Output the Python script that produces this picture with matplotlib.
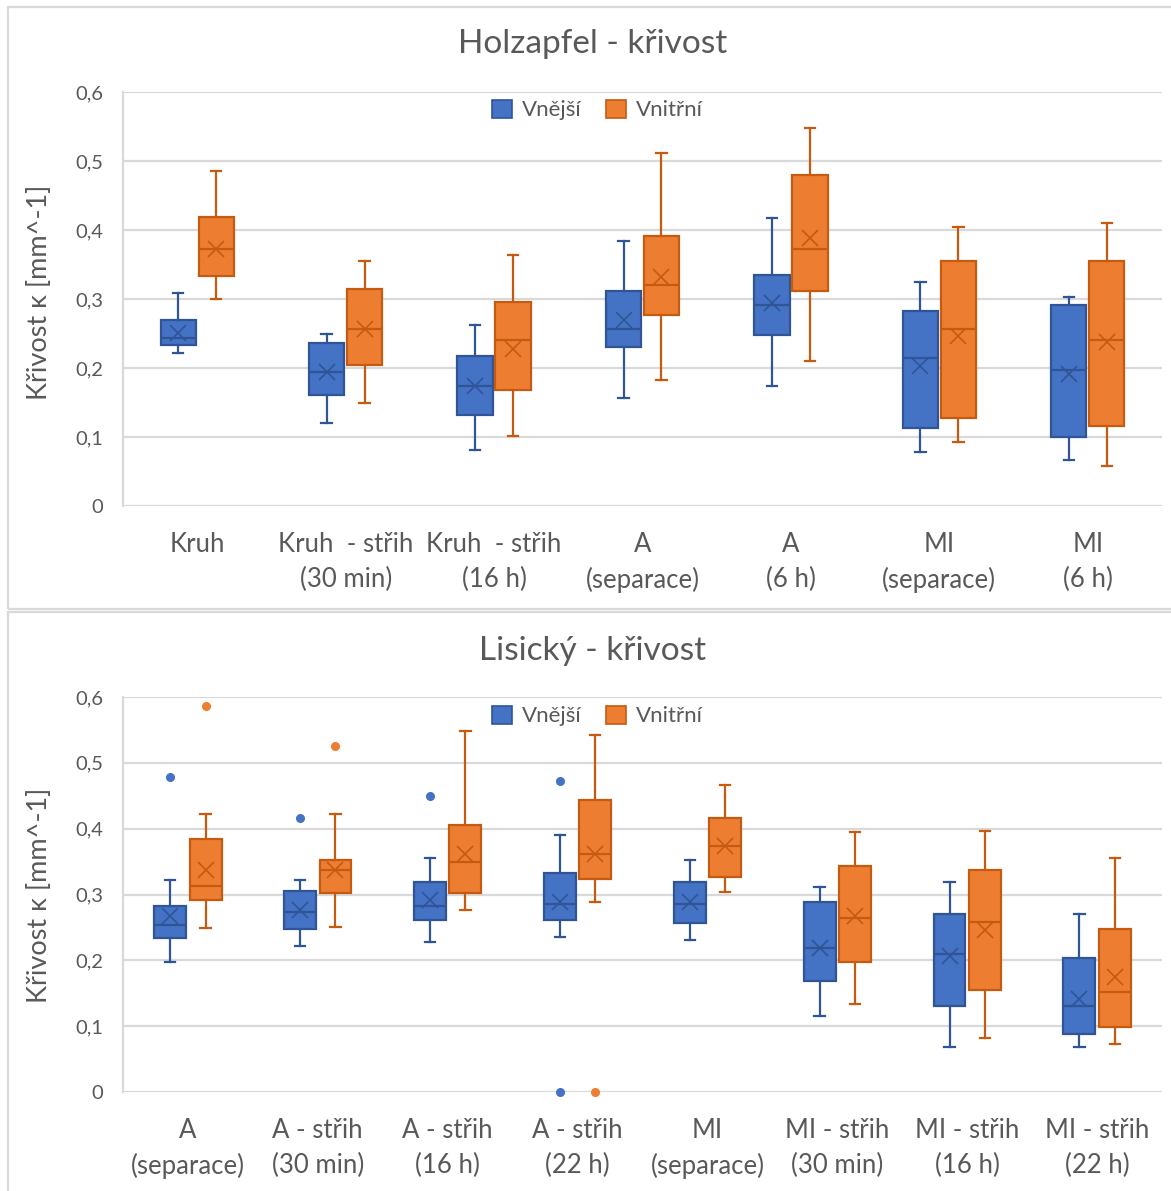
import matplotlib
matplotlib.use("Agg")
import matplotlib.pyplot as plt
from matplotlib.patches import Patch, Rectangle

plt.rcParams['font.family'] = ['Lato', 'DejaVu Sans']

# ---------------- data ----------------
top_title = "Holzapfel - křivost"
top_categories = ["Kruh", "Kruh  - střih\n(30 min)", "Kruh  - střih\n(16 h)", "A\n(separace)",
                  "A\n(6 h)", "MI\n(separace)", "MI\n(6 h)"]
# Vnější (outer)
top_out_whislo = [0.222, 0.121, 0.081, 0.156, 0.174, 0.078, 0.067]
top_out_q1     = [0.233, 0.161, 0.132, 0.230, 0.248, 0.113, 0.100]
top_out_med    = [0.244, 0.194, 0.174, 0.257, 0.292, 0.214, 0.197]
top_out_q3     = [0.270, 0.236, 0.217, 0.312, 0.335, 0.283, 0.292]
top_out_whishi = [0.309, 0.249, 0.262, 0.384, 0.418, 0.324, 0.303]
top_out_mean   = [0.251, 0.194, 0.174, 0.269, 0.294, 0.203, 0.192]
top_out_fliers = [[], [], [], [], [], [], []]
# Vnitřní (inner)
top_in_whislo = [0.300, 0.150, 0.101, 0.182, 0.210, 0.093, 0.058]
top_in_q1     = [0.334, 0.204, 0.168, 0.277, 0.312, 0.127, 0.116]
top_in_med    = [0.373, 0.257, 0.240, 0.321, 0.373, 0.257, 0.240]
top_in_q3     = [0.419, 0.314, 0.295, 0.392, 0.480, 0.355, 0.355]
top_in_whishi = [0.486, 0.355, 0.364, 0.511, 0.548, 0.404, 0.410]
top_in_mean   = [0.372, 0.257, 0.227, 0.332, 0.388, 0.247, 0.238]
top_in_fliers = [[], [], [], [], [], [], []]

bot_title = "Lisický - křivost"
bot_categories = ["A\n(separace)", "A - střih\n(30 min)", "A - střih\n(16 h)", "A - střih\n(22 h)",
                  "MI\n(separace)", "MI - střih\n(30 min)", "MI - střih\n(16 h)", "MI - střih\n(22 h)"]
bot_out_whislo = [0.197, 0.222, 0.228, 0.235, 0.231, 0.116, 0.069, 0.069]
bot_out_q1     = [0.234, 0.248, 0.262, 0.262, 0.257, 0.169, 0.131, 0.088]
bot_out_med    = [0.254, 0.273, 0.282, 0.286, 0.285, 0.219, 0.210, 0.131]
bot_out_q3     = [0.282, 0.306, 0.319, 0.333, 0.319, 0.289, 0.270, 0.203]
bot_out_whishi = [0.322, 0.322, 0.355, 0.391, 0.352, 0.312, 0.319, 0.270]
bot_out_mean   = [0.267, 0.277, 0.292, 0.288, 0.288, 0.218, 0.206, 0.142]
bot_out_fliers = [[0.479], [0.416], [0.449], [0.473, 0.0], [], [], [], []]
bot_in_whislo = [0.249, 0.251, 0.276, 0.289, 0.304, 0.134, 0.082, 0.073]
bot_in_q1     = [0.291, 0.303, 0.303, 0.324, 0.327, 0.197, 0.155, 0.099]
bot_in_med    = [0.313, 0.337, 0.349, 0.361, 0.374, 0.265, 0.258, 0.152]
bot_in_q3     = [0.385, 0.352, 0.406, 0.443, 0.416, 0.343, 0.337, 0.248]
bot_in_whishi = [0.422, 0.422, 0.549, 0.543, 0.467, 0.395, 0.397, 0.355]
bot_in_mean   = [0.337, 0.337, 0.362, 0.361, 0.374, 0.267, 0.246, 0.174]
bot_in_fliers = [[0.586], [0.525], [], [0.0], [], [], [], []]

series_names = ["Vnější", "Vnitřní"]
yticks = [0, 0.1, 0.2, 0.3, 0.4, 0.5, 0.6]
ytick_labels = ["0", "0,1", "0,2", "0,3", "0,4", "0,5", "0,6"]
ylabel = "Křivost κ [mm^-1]"

# ---------------- style ----------------
BLUE_F, BLUE_E = "#4472C4", "#2F5597"
ORG_F, ORG_E = "#ED7D31", "#C55A11"
GRID = "#D9D9D9"
TXT = "#595959"

W, H = 1171, 1191
fig = plt.figure(figsize=(W / 100, H / 100), dpi=100)


def fx(px):
    return px / W


def fy(py):
    return 1 - py / H


def stats(whislo, q1, med, q3, whishi, mean, fliers):
    out = []
    for i in range(len(med)):
        out.append(dict(whislo=whislo[i], q1=q1[i], med=med[i], q3=q3[i],
                        whishi=whishi[i], mean=mean[i], fliers=fliers[i]))
    return out


def draw_panel(rect, cats, s_out, s_in, offset, width, capw, leg_y):
    ax = fig.add_axes(rect)
    n = len(cats)
    pos_out = [i - offset for i in range(n)]
    pos_in = [i + offset for i in range(n)]
    for st, pos, fc, ec in [(s_out, pos_out, BLUE_F, BLUE_E), (s_in, pos_in, ORG_F, ORG_E)]:
        ax.bxp(st, positions=pos, widths=width, patch_artist=True, showmeans=True,
               capwidths=capw, manage_ticks=False,
               boxprops=dict(facecolor=fc, edgecolor=ec, linewidth=1.6),
               medianprops=dict(color=ec, linewidth=1.6),
               whiskerprops=dict(color=ec, linewidth=1.6),
               capprops=dict(color=ec, linewidth=1.6),
               meanprops=dict(marker='x', markeredgecolor=ec, markersize=11,
                              markeredgewidth=1.2),
               flierprops=dict(marker='o', markerfacecolor=fc, markeredgecolor=fc,
                               markersize=5.5, clip_on=False))
    ax.set_xlim(-0.5, n - 0.5)
    ax.set_ylim(0, 0.6)
    ax.set_yticks(yticks)
    ax.set_yticklabels(ytick_labels)
    ax.set_xticks(range(n))
    ax.set_xticklabels(cats, linespacing=1.45)
    ax.tick_params(axis='both', length=0, colors=TXT)
    ax.tick_params(axis='y', labelsize=14.5, pad=14)
    ax.tick_params(axis='x', labelsize=18.5, pad=19)
    ax.yaxis.grid(True, color=GRID, linewidth=1.6)
    ax.set_axisbelow(True)
    for s in ['top', 'right', 'bottom']:
        ax.spines[s].set_visible(False)
    ax.spines['left'].set_color(GRID)
    ax.spines['left'].set_linewidth(1.6)
    handles = [Patch(facecolor=BLUE_F, edgecolor=BLUE_E, linewidth=1.2),
               Patch(facecolor=ORG_F, edgecolor=ORG_E, linewidth=1.2)]
    ax.legend(handles, series_names, loc='center', bbox_to_anchor=(0.457, leg_y), ncol=2,
              frameon=False, fontsize=16, labelcolor=TXT, handlelength=0.9,
              handleheight=0.9, handletextpad=0.45, columnspacing=1.1)
    return ax


# panel frames
fig.add_artist(Rectangle((fx(8), fy(609)), fx(1180) - fx(8), fy(7) - fy(609),
                         transform=fig.transFigure, fill=False, edgecolor=GRID, linewidth=1.6))
fig.add_artist(Rectangle((fx(8), fy(1200)), fx(1180) - fx(8), fy(612) - fy(1200),
                         transform=fig.transFigure, fill=False, edgecolor=GRID, linewidth=1.6))

# top panel
top_rect = [fx(123), fy(506), fx(1162) - fx(123), fy(92) - fy(506)]
draw_panel(top_rect, top_categories,
           stats(top_out_whislo, top_out_q1, top_out_med, top_out_q3, top_out_whishi, top_out_mean, top_out_fliers),
           stats(top_in_whislo, top_in_q1, top_in_med, top_in_q3, top_in_whishi, top_in_mean, top_in_fliers),
           0.128, 0.238, 0.07, (506 - 110) / 414)
fig.text(fx(593), fy(44), top_title, ha='center', va='center', fontsize=24, color=TXT)
fig.text(fx(40), fy(292), ylabel, ha='center', va='center', rotation=90, fontsize=19.5, color=TXT)

# bottom panel
bot_rect = [fx(123), fy(1092), fx(1162) - fx(123), fy(697) - fy(1092)]
draw_panel(bot_rect, bot_categories,
           stats(bot_out_whislo, bot_out_q1, bot_out_med, bot_out_q3, bot_out_whishi, bot_out_mean, bot_out_fliers),
           stats(bot_in_whislo, bot_in_q1, bot_in_med, bot_in_q3, bot_in_whishi, bot_in_mean, bot_in_fliers),
           0.136, 0.245, 0.08, (1092 - 716) / 395)
fig.text(fx(593), fy(651), bot_title, ha='center', va='center', fontsize=24, color=TXT)
fig.text(fx(40), fy(895), ylabel, ha='center', va='center', rotation=90, fontsize=19.5, color=TXT)

fig.savefig("out.png", dpi=100)
